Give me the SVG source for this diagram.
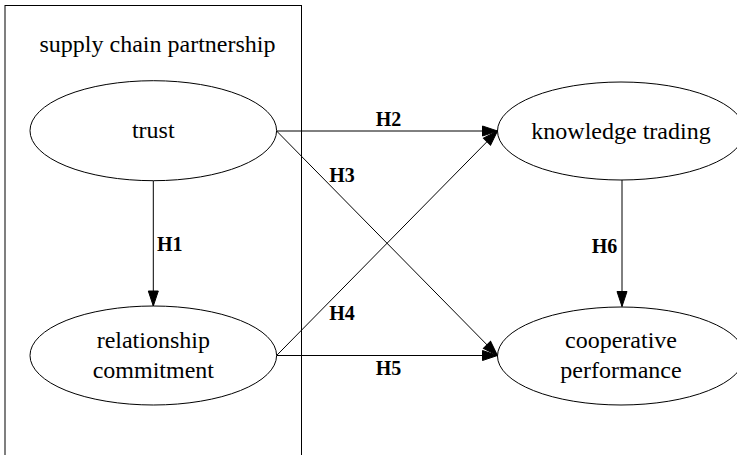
<svg xmlns="http://www.w3.org/2000/svg" width="737" height="455" viewBox="0 0 737 455">
<style>
.node ellipse{fill:#fff;stroke:#000;stroke-width:1}
.t{font-family:"Liberation Serif","Times New Roman",serif;font-size:24px;fill:#000;text-anchor:middle}
.lbl{font-family:"Liberation Serif","Times New Roman",serif;font-size:20px;font-weight:bold;fill:#000}
.edge{stroke:#000;stroke-width:1;fill:none;marker-end:url(#ah)}
</style>
<defs>
<marker id="ah" markerUnits="userSpaceOnUse" markerWidth="16" markerHeight="11" refX="15" refY="5" orient="auto" overflow="visible">
<path d="M0,0 L15,5 L0,10 Z" fill="#000" stroke="#000" stroke-width="1"/>
</marker>
</defs>
<rect width="737" height="455" fill="#fff"/>
<g id="cluster">
<rect x="5" y="5.5" width="296.5" height="460" fill="none" stroke="#000" stroke-width="1"/>
<text class="t" x="157.5" y="51.7">supply chain partnership</text>
</g>
<g id="connectors">
<line class="edge" x1="153.3" y1="181" x2="153.3" y2="306"/>
<line class="edge" x1="276.6" y1="131" x2="497.5" y2="131"/>
<line class="edge" x1="276.6" y1="131" x2="497.5" y2="355.5"/>
<line class="edge" x1="276.6" y1="355.5" x2="497.5" y2="131"/>
<line class="edge" x1="276.6" y1="355.5" x2="497.5" y2="355.5"/>
<line class="edge" x1="622" y1="180" x2="622" y2="306.5"/>
<text class="lbl" x="157" y="250.7">H1</text>
<text class="lbl" x="388.5" y="125.7" text-anchor="middle">H2</text>
<text class="lbl" x="329.3" y="181.7">H3</text>
<text class="lbl" x="329.3" y="320">H4</text>
<text class="lbl" x="388.5" y="375" text-anchor="middle">H5</text>
<text class="lbl" x="591.7" y="252.7">H6</text>
</g>
<g id="trust" class="node">
<ellipse cx="153.3" cy="130.7" rx="123.3" ry="50"/>
<text class="t" x="153.3" y="137.5">trust</text>
</g>
<g id="relationship-commitment" class="node">
<ellipse cx="153.3" cy="355.5" rx="123.3" ry="49.5"/>
<text class="t" x="153.3" y="348.3">relationship</text>
<text class="t" x="153.3" y="377.7">commitment</text>
</g>
<g id="knowledge-trading" class="node">
<ellipse cx="621" cy="131" rx="123.5" ry="49"/>
<text class="t" x="621" y="139">knowledge trading</text>
</g>
<g id="cooperative-performance" class="node">
<ellipse cx="621" cy="356" rx="123.5" ry="49"/>
<text class="t" x="621" y="348.3">cooperative</text>
<text class="t" x="621" y="377.7">performance</text>
</g>
</svg>
